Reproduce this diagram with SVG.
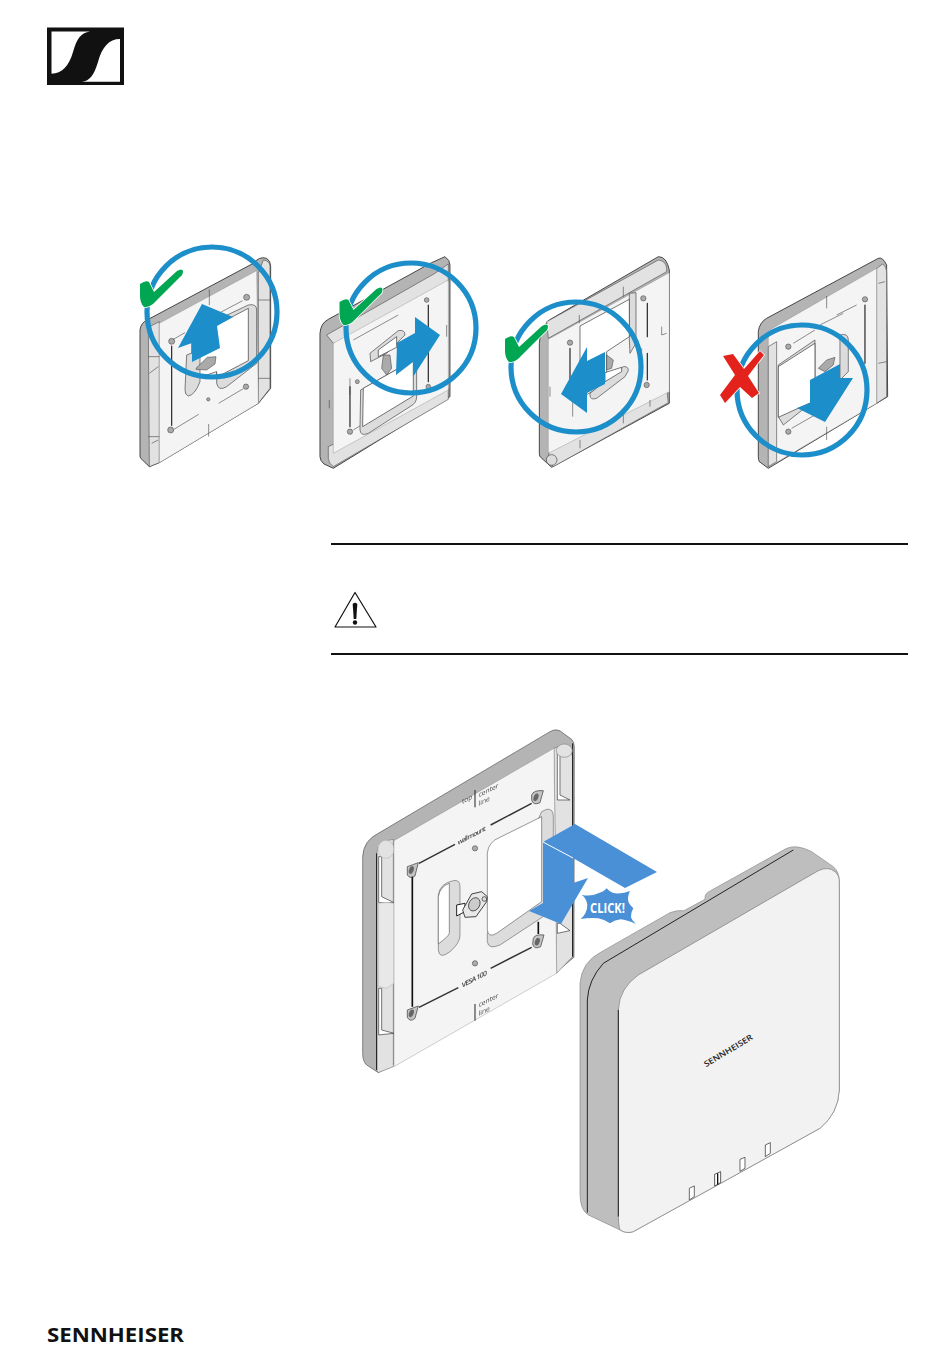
<svg xmlns="http://www.w3.org/2000/svg" width="950" height="1369" viewBox="0 0 950 1369">
<style>
.e{fill:#b4b4b4;stroke:#2a2a2a;stroke-width:1.5;stroke-linejoin:round}
.r{fill:#e2e2e2;stroke:#555;stroke-width:1.5;stroke-linejoin:round}
.f{fill:#f4f4f4;stroke:#777;stroke-width:1;stroke-linejoin:round}
.w{fill:#fff;stroke:#333;stroke-width:1.5;stroke-linejoin:round}
.b{fill:#dcdcdc;stroke:#444;stroke-width:1.5;stroke-linejoin:round}
.l{fill:none;stroke:#222;stroke-width:3.5;stroke-linecap:round}
.t{fill:none;stroke:#444;stroke-width:1.8}
.h{fill:#aaa;stroke:#333;stroke-width:1.5}
.c{fill:none;stroke:#1c8ec9;stroke-width:5.2}
.a{fill:#1c8ec9}
.g{fill:#00a651;stroke:#fff;stroke-width:1.6;paint-order:stroke}
.p{font-family:"Open Sans","Liberation Sans",sans-serif;fill:#444}
.k{fill:#e8e8e8;stroke:#222;stroke-width:2.5}
.s .e{stroke-width:2.5}
.s .w,.s .b,.s .r{stroke-width:2}
</style>
<defs>
<path id="chk" d="M140,284Q146,280 149,282L154,292L177,271Q182,268 183,271Q183,275 180,277L153,304Q148,308 144,307Q140,303 140,296Z"/>
</defs>

<g id="logo-top">
<rect x="47" y="27.500" width="77" height="57.500" fill="#111"/>
<path d="M51.500,31.500H90C81,33 77,38 73,52C69,66 62,73.500 51.500,73.700Z" fill="#fff"/>
<path d="M120,39V81.700H81.700C90,81 94,75 98,62C102,47 109,39 120,39Z" fill="#fff"/>
</g>

<g id="plate-1" class="s" transform="translate(120,240) scale(.3333)">
<path class="e" d="M60,270Q62,248 85,238L400,70Q418,48 440,55Q452,62 452,80V445L415,490L118,668L88,680L62,655Q60,652 60,645Z"/>
<path class="r" d="M85,262L118,245V668L88,680Z"/>
<path class="r" d="M415,100L430,60Q450,62 450,80V445L415,490Z"/>
<path class="f" d="M118,250L410,92L415,490L118,668Z"/>
<path class="b" d="M290,240L385,195Q410,190 410,210V370L320,440Q295,455 290,430Z"/>
<path class="w" d="M215,295L385,205V362L290,412V395L215,420Z"/>
<path class="b" d="M200,345L240,330V425Q225,465 205,468Q195,465 195,450Z"/>
<path class="h" d="M228,385L262,352L288,350L285,372L260,390L228,388Z"/>
<circle class="h" cx="155" cy="304" r="9"/><circle class="h" cx="380" cy="172" r="9"/><circle class="h" cx="378" cy="440" r="8"/><circle class="h" cx="152" cy="570" r="9"/><circle class="h" cx="265" cy="478" r="5"/>
<path class="l" d="M155,318V556"/>
<path class="t" d="M162,568L236,523M296,490L370,446M160,298L195,278M268,148V195M266,552V590M368,182L268,235"/>
<path class="t" d="M85,350H118M85,590H118M415,180H450M415,415H450M88,400L115,380M95,610L115,600"/>
</g>

<g id="plate-2" class="s" transform="translate(120,240) scale(.3333)">
<path class="e" d="M600,280Q602,250 625,238L935,68L975,50Q990,60 990,75V470L640,685L612,672Q600,662 600,650Z"/>
<path class="r" d="M620,285L945,100L985,72V125L665,305L640,310Z"/>
<path class="r" d="M625,620L985,445V478L640,680Q625,670 625,655Z"/>
<path class="f" d="M640,310L985,120V450L640,640Z"/>
<path class="b" d="M722,450L880,360Q890,365 890,380V470Q890,490 870,500L745,580Q722,590 720,570Z"/>
<path class="w" d="M730,445L880,360V468L728,560Z"/>
<path class="b" d="M750,340L835,272Q855,268 855,285L800,340L752,365Z"/>
<path class="w" d="M775,330L830,290V322L775,350Z"/>
<path class="h" d="M790,345L810,345L815,385L800,405L785,385Z"/>
<circle class="h" cx="712" cy="425" r="6"/><circle class="h" cx="690" cy="575" r="8"/><circle class="h" cx="920" cy="180" r="7"/><circle class="h" cx="925" cy="440" r="7"/>
<path class="l" d="M690,560V440M925,195V425"/>
<path class="t" d="M700,300L835,225M628,480V505M980,255V290M690,415V465M700,570L720,558"/>
</g>

<g id="plate-3" class="s" transform="translate(490,240) scale(.3333)">
<path class="e" d="M148,310Q150,265 178,240L505,50Q530,50 538,90V490L185,682L152,652Q148,650 148,640Z"/>
<path class="r" d="M170,245L505,60Q528,62 530,85V95L175,295Z"/>
<path class="r" d="M180,625L530,445L535,488L190,680Q178,670 175,650Z"/>
<path class="f" d="M175,298L538,98V455L175,640Z"/>
<path class="b" d="M418,160L438,158V310L420,340L418,300Z"/>
<path class="w" d="M270,258L418,178V290L350,335V430L270,475Z"/>
<path class="b" d="M300,460L400,380Q415,378 415,392L405,410L320,475Q300,482 300,465Z"/>
<path class="w" d="M345,398L395,382V395L345,425Z"/>
<path class="h" d="M350,345L370,360L365,385L350,390Z"/>
<circle class="h" cx="240" cy="308" r="8"/><circle class="h" cx="460" cy="175" r="8"/><circle class="h" cx="470" cy="435" r="8"/><circle cx="185" cy="660" r="16" fill="#ddd" stroke="#444" stroke-width="2"/>
<path class="l" d="M240,325V420M472,190V290M472,340V420"/>
<path class="t" d="M248,460V530M400,140V170M268,225V250M515,260V285M515,285L530,280M455,325V335M270,600V625M400,525V550M480,480V500M180,440V470"/>
</g>

<g id="plate-4" class="s" transform="translate(490,240) scale(.3333)">
<path class="e" d="M805,275Q808,248 830,235L1165,55Q1178,50 1190,75L1193,470L1160,490L835,685L808,665Q805,660 805,650Z"/>
<path class="r" d="M1160,85L1178,72Q1190,80 1190,95V470L1160,490Z"/>
<path class="f" d="M835,272L1160,85V490L835,682Z"/>
<path class="r" d="M835,320L860,305V665L835,680Z"/>
<path class="b" d="M1050,285Q1075,278 1075,300V395L1050,420Z"/>
<path class="b" d="M865,375L975,300V480L880,555L865,530Z"/>
<path class="w" d="M865,380L975,310V482L865,532Z"/>
<path class="h" d="M985,385L1010,360L1035,352L1030,375L1005,395Z"/>
<circle class="h" cx="895" cy="320" r="8"/><circle class="h" cx="1125" cy="178" r="8"/><circle class="h" cx="895" cy="575" r="8"/>
<path class="l" d="M1125,195V370"/>
<path class="t" d="M1010,168V205M1010,560V600M990,255L1060,220M910,310L975,270M905,565L975,525M1100,195L1040,225M1165,130L1185,125M1165,370L1190,365"/>
</g>

<g id="callout-1">
<circle class="c" cx="212" cy="312" r="65"/>
<path class="a" d="M202,304L233,317L217,326L220,348L192,362L192,343L178,348Z"/>
</g>
<g id="callout-2">
<circle class="c" cx="411" cy="328" r="65"/>
<path class="a" d="M415,317L440,335L413,377V362L396,375L397,343L415,333Z"/>
</g>
<g id="callout-3">
<circle class="c" cx="576" cy="367" r="65"/>
<path class="a" d="M587,347V361L605,352V384L587,393V413L561,394Z"/>
</g>
<g id="callout-4">
<circle class="c" cx="802" cy="390" r="65"/>
<path class="a" d="M810,380L840,364V378H853L825,422L797,408L810,403Z"/>
</g>
<g id="check-1"><use href="#chk" class="g"/></g>
<g id="check-2"><use href="#chk" class="g" x="199.500" y="18"/></g>
<g id="check-3"><use href="#chk" class="g" x="365" y="55"/></g>
<g id="cross">
<path fill="#e3231b" stroke="#fff" stroke-width="1.500" paint-order="stroke" d="M723,356L733,354L744,369L760,351L764,355L748,376L759,393L752,398L740,387L725,403L720,395L735,375Z"/>
</g>

<g id="notice">
<path d="M331,544H908M331,654H908" stroke="#111" stroke-width="2" fill="none"/>
<path d="M355,592.500L335,627H376Z" fill="none" stroke="#111" stroke-width="1.200" stroke-linejoin="round"/>
<path d="M352.700,604Q355,601.500 357.300,604L356.300,619H353.700Z" fill="#111"/>
<circle cx="355" cy="622.500" r="2.200" fill="#111"/>
</g>

<g id="plate-main" transform="translate(350,720) scale(.3333)">
<path class="e" d="M38,410Q40,362 85,340L600,35Q622,22 640,40L665,58Q673,66 673,80L672,712L620,755L85,1058L50,1035Q38,1025 38,1000Z" stroke-width="2"/>
<path class="r" d="M80,400Q82,362 130,358V1040L85,1058L80,1050Z" stroke-width="2"/>
<path class="r" d="M612,85Q640,70 662,90L668,110V710L620,760Z" stroke-width="2"/>
<path d="M80,400V1050M668,70V710" stroke="#111" stroke-width="3" fill="none"/>
<path d="M86,410H95V530L132,548H86ZM86,805H95V930L132,940L86,945Z" fill="#fff" stroke="#333" stroke-width="2"/>
<path d="M622,100H630V225L660,240H622ZM622,610H630L660,632L622,640Z" fill="#fff" stroke="#333" stroke-width="2"/>
<path d="M86,550Q110,545 132,550V790L110,805L86,800Z" fill="#e8e8e8" stroke="#bbb" stroke-width="2"/>
<ellipse cx="108" cy="388" rx="24" ry="27" fill="#e2e2e2" stroke="#bbb" stroke-width="2"/>
<ellipse cx="643" cy="92" rx="24" ry="20" fill="#e2e2e2" stroke="#888" stroke-width="2"/>
<path class="f" d="M132,362L612,85L620,760L132,1040Z"/>
<path class="b" d="M575,275L590,268Q610,265 610,290V570L450,675Q415,690 412,665V640Z"/>
<path class="w" d="M575,290V545L440,640Q415,655 412,630V400Q415,365 450,352Z"/>
<path class="b" d="M265,525Q270,490 310,482Q330,478 330,500V645Q330,670 300,695Q268,720 265,690Z"/>
<path class="w" d="M265,530Q270,500 298,490V640Q295,650 265,672Z"/>
<path d="M320,555L345,550V575L320,588Z" fill="#fff" stroke="#222" stroke-width="3"/>
<path class="k" d="M338,570L365,522L395,515L412,530L410,545L378,590L345,592Z"/>
<ellipse cx="373" cy="553" rx="16" ry="21" transform="rotate(30 373 553)" fill="#ccc" stroke="#222" stroke-width="2"/>
<circle cx="403" cy="537" r="7" fill="#ddd" stroke="#222" stroke-width="2"/>
<g id="holes" fill="#c4c4c4" stroke="#333" stroke-width="2">
<path d="M172,440L205,428L195,468Q180,478 172,465Z"/>
<path d="M545,225Q550,210 580,212L570,248Q550,258 545,240Z"/>
<path d="M550,655Q555,642 582,645L572,680Q552,690 548,672Z"/>
<path d="M172,870L205,858L195,895Q180,908 172,892Z"/>
</g>
<g fill="#666">
<ellipse cx="184" cy="450" rx="7" ry="12" transform="rotate(20 184 450)"/>
<ellipse cx="558" cy="232" rx="7" ry="12" transform="rotate(20 558 232)"/>
<ellipse cx="562" cy="665" rx="7" ry="12" transform="rotate(20 562 665)"/>
<ellipse cx="184" cy="880" rx="7" ry="12" transform="rotate(20 184 880)"/>
</g>
<circle class="h" cx="375" cy="385" r="8"/><circle class="h" cx="375" cy="730" r="8"/>
<path d="M187,470V860M565,605V642" stroke="#111" stroke-width="5" fill="none"/>
<path d="M207,430L315,373M422,315L545,250M207,862L325,803M422,745L545,682" stroke="#333" stroke-width="4.500" fill="none"/>
<path d="M375,210V262M375,852V902" stroke="#222" stroke-width="3" fill="none"/>
<g class="p" font-size="20" opacity=".99">
<text transform="matrix(1,-.5,0,1,336,252)">top</text>
<text transform="matrix(1,-.5,0,1,386,232)">center</text>
<text transform="matrix(1,-.5,0,1,386,258)">line</text>
<text transform="matrix(1,-.52,0,1,323,375)" font-weight="600" textLength="84">wall mount</text>
<text transform="matrix(1,-.52,0,1,335,804)" font-weight="600" font-size="21" textLength="76">VESA 100</text>
<text transform="matrix(1,-.5,0,1,386,862)">center</text>
<text transform="matrix(1,-.5,0,1,386,888)">line</text>
</g>
</g>

<g id="click-arrow">
<path fill="#4a90d6" d="M575,824L657,872L625,888L573,858V883L588,878L561,924L529,911L543,903V842Z"/>
<path d="M543,842L573,858" stroke="#fff" stroke-width="1" fill="none"/>
</g>
<g id="click-burst">
<path fill="#4a90d6" transform="translate(350,720) scale(.3333)" d="M692,597Q712,580 712,555Q710,535 695,525Q725,530 745,520Q762,515 770,505Q782,518 795,520Q820,522 840,513Q832,530 835,545Q840,556 850,565Q842,578 843,590Q845,600 858,612Q830,600 812,598Q795,600 780,610Q762,598 745,595Q720,592 692,597Z"/>
<text x="590" y="913" font-family="'Open Sans','Liberation Sans',sans-serif" font-weight="700" font-size="13.500" fill="#fff" textLength="35" lengthAdjust="spacingAndGlyphs">CLICK!</text>
</g>

<g id="device" transform="translate(570,840) scale(.3333)">
<path d="M30,430Q35,365 95,335L300,218Q320,210 342,212L405,178Q403,160 422,152L650,25Q680,12 725,35L790,80Q808,95 808,125V750Q805,820 750,865L190,1175Q170,1182 150,1170L55,1125Q30,1110 30,1060Z" fill="#bebebe" stroke="#888" stroke-width="2"/>
<path d="M52,1118V480Q55,420 100,370L670,30" fill="none" stroke="#222" stroke-width="3"/>
<path d="M145,510Q148,445 205,405L745,92Q775,78 795,95Q808,105 808,125V750Q805,820 750,865L190,1175Q170,1182 150,1170Q146,1160 145,1130Z" fill="#f2f2f2" stroke="#777" stroke-width="2"/>
<path d="M145,510V1130" stroke="#222" stroke-width="3" fill="none"/>
<path d="M358,1045L373,1038V1070L358,1080ZM510,958L525,952V985L510,994ZM586,915L601,908V940L586,950Z" fill="#fff" stroke="#222" stroke-width="2"/>
<path d="M434,1003L452,995V1028L434,1038Z" fill="#fff" stroke="#111" stroke-width="2"/>
<path d="M443,1000V1034" stroke="#111" stroke-width="4"/>
<text transform="rotate(-31 408 682)" x="408" y="682" font-family="'Open Sans','Liberation Sans',sans-serif" font-weight="600" font-size="24" fill="#222" textLength="166" lengthAdjust="spacingAndGlyphs" opacity=".99">SENNHEISER</text>
</g>

<g id="logo-bottom">
<text x="47" y="1341.500" font-family="'Open Sans','Liberation Sans',sans-serif" font-weight="700" font-size="20" fill="#111" textLength="137" lengthAdjust="spacingAndGlyphs">SENNHEISER</text>
</g>
</svg>
